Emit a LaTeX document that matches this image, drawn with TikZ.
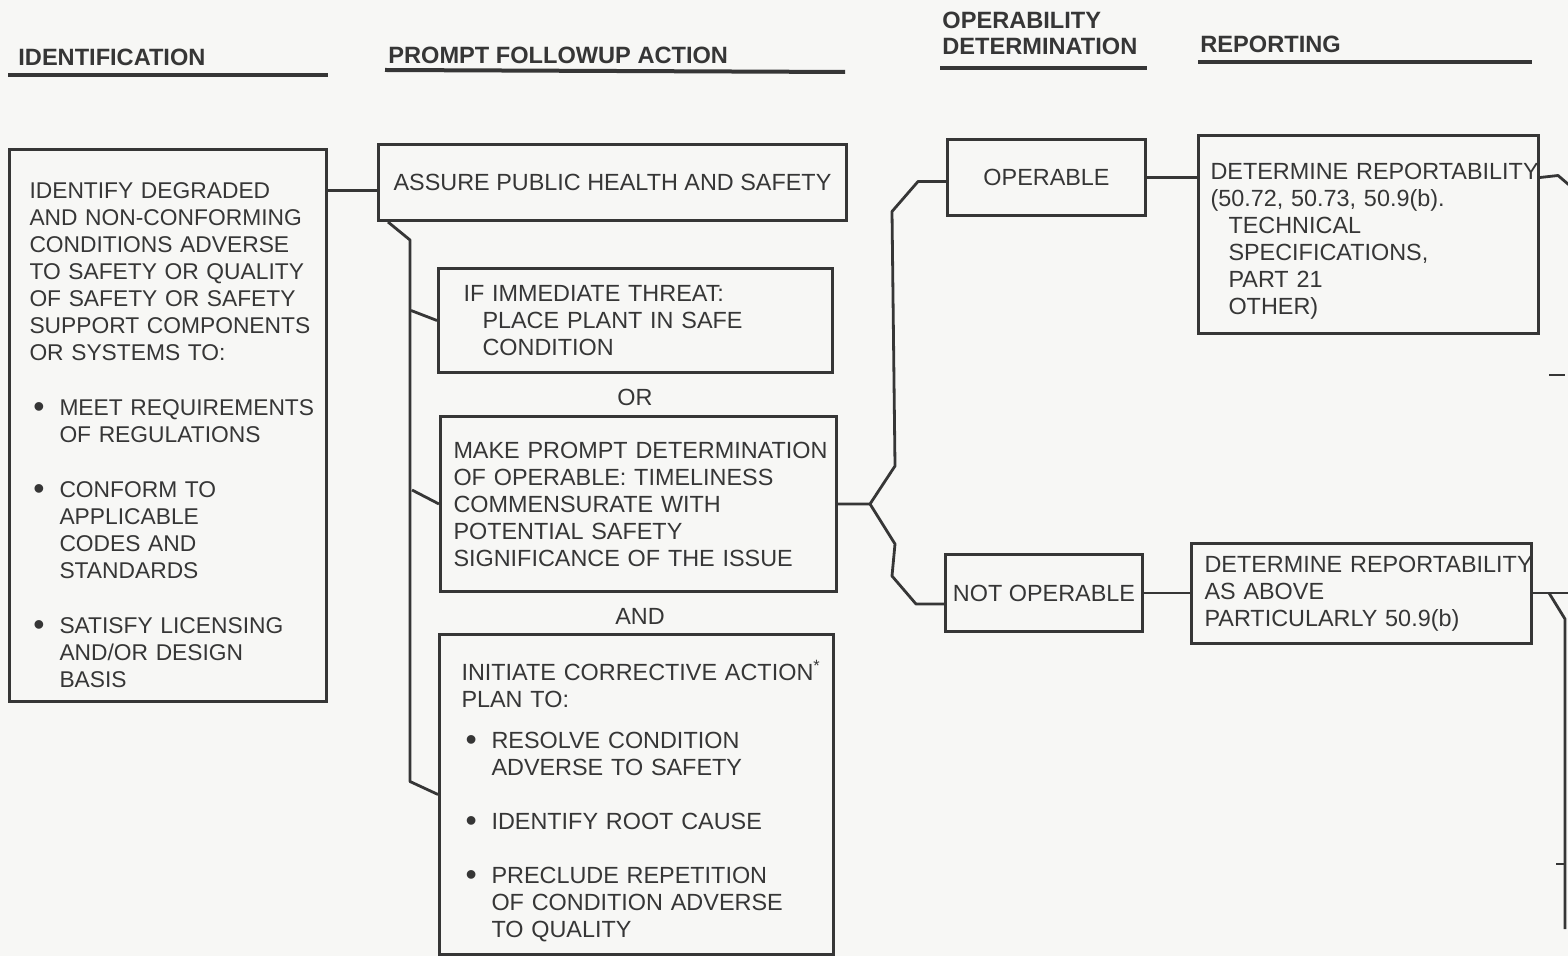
\documentclass[tikz,border=0pt]{standalone}
\usepackage{fontspec}
\setmainfont{Liberation Sans}
\usepackage{xcolor}
\definecolor{ink}{HTML}{363636}
\definecolor{paper}{HTML}{F7F7F5}
\newcommand{\bodyfont}{\fontsize{11.7pt}{13.5pt}\selectfont}
\newcommand{\smallbody}{\fontsize{11.4pt}{13.5pt}\selectfont}
\newcommand{\headfont}{\fontsize{11.8pt}{13pt}\selectfont\bfseries}
\newcommand{\bul}{\hspace*{2pt}\makebox[13pt][l]{\raisebox{-1.2pt}{\fontsize{16pt}{0pt}\selectfont\textbullet}}}
\newcommand{\ind}{\hspace*{15pt}}
\newcommand{\lift}[1]{\rule{0pt}{#1}}

\begin{document}
\begin{tikzpicture}[x=0.5pt,y=-0.5pt,
  blk/.style={draw=ink, line width=1.5pt, anchor=north west, inner xsep=0pt,
    inner ysep=2pt, align=left, font=\bodyfont, text=ink,
    execute at begin node={\leftskip=#1\relax}},
  cblk/.style={draw=ink, line width=1.5pt, anchor=north west, inner sep=0pt,
    align=center, font=\bodyfont, text=ink},
  hdr/.style={anchor=west, inner sep=0pt, align=left, font=\headfont, text=ink},
  lbl/.style={font=\bodyfont, text=ink, inner sep=0pt},
  wire/.style={draw=ink, line width=1.4pt, line join=round},
  uline/.style={draw=ink, line width=2pt}]
\fill[paper] (0,0) rectangle (1568,956);
\useasboundingbox (0,0) rectangle (1568,956);

\node[hdr] (hid) at (18,57) {IDENTIFICATION};
\node[hdr] (hpf) at (388,55) {PROMPT FOLLOWUP ACTION};
\node[hdr] (hop) at (942,33) {OPERABILITY\\DETERMINATION};
\node[hdr] (hrep) at (1200,44) {REPORTING};
\draw[uline] (8,75) -- (328,75);
\draw[uline] (385,70) -- (845,72);
\draw[uline] (940,68) -- (1147,68);
\draw[uline] (1198,62) -- (1532,62);

\node[blk=10pt, font=\smallbody, text width=158.5pt, minimum height=276pt] (ident) at (8,148) {%
\lift{17.4pt}IDENTIFY DEGRADED\\
AND NON-CONFORMING\\
CONDITIONS ADVERSE\\
TO SAFETY OR QUALITY\\
OF SAFETY OR SAFETY\\
SUPPORT COMPONENTS\\
OR SYSTEMS TO:\\[14pt]
\bul MEET REQUIREMENTS\\
\ind OF REGULATIONS\\[14pt]
\bul CONFORM TO\\
\ind APPLICABLE\\
\ind CODES AND\\
\ind STANDARDS\\[14pt]
\bul SATISFY LICENSING\\
\ind AND/OR DESIGN\\
\ind BASIS};

\node[cblk, minimum width=234pt, minimum height=38pt] (assure) at (377,143) {ASSURE PUBLIC HEALTH AND SAFETY};
\node[blk=12.5pt, text width=197pt, minimum height=52pt] (threat) at (437,267) {%
IF IMMEDIATE THREAT:\\
\hspace*{9.5pt}PLACE PLANT IN SAFE\\
\hspace*{9.5pt}CONDITION};
\node[lbl] (or) at (635,397) {OR};
\node[blk=6.5pt, text width=198pt, minimum height=87.5pt] (determ) at (439,415) {%
\mbox{MAKE PROMPT DETERMINATION}\\
OF OPERABLE: TIMELINESS\\
COMMENSURATE WITH\\
POTENTIAL SAFETY\\
SIGNIFICANCE OF THE ISSUE};
\node[lbl] (and) at (640,616) {AND};
\node[blk=11pt, text width=197pt, minimum height=160pt] (corr) at (438,633) {%
\lift{16.4pt}INITIATE CORRECTIVE ACTION\textsuperscript{*}\\
PLAN TO:\\[7pt]
\bul RESOLVE CONDITION\\
\ind ADVERSE TO SAFETY\\[13.5pt]
\bul IDENTIFY ROOT CAUSE\\[13.5pt]
\bul PRECLUDE REPETITION\\
\ind OF CONDITION ADVERSE\\
\ind TO QUALITY};

\node[cblk, minimum width=99pt, minimum height=38pt] (op) at (946,138) {OPERABLE};
\node[cblk, minimum width=98.5pt, minimum height=38.5pt] (notop) at (944,553) {NOT OPERABLE};
\node[blk=6pt, text width=170pt, minimum height=99pt] (rep1) at (1197,134) {%
\mbox{\lift{15.4pt}DETERMINE REPORTABILITY}\\
(50.72, 50.73, 50.9(b).\\
\hspace*{9pt}TECHNICAL\\
\hspace*{9pt}SPECIFICATIONS,\\
\hspace*{9pt}PART 21\\
\hspace*{9pt}OTHER)};
\node[blk=6.5pt, text width=170pt, minimum height=50pt] (rep2) at (1190,542) {%
\mbox{DETERMINE REPORTABILITY}\\
AS ABOVE\\
PARTICULARLY 50.9(b)};

\draw[wire] ([yshift=-4pt]assure.west -| ident.east) -- ([yshift=-4pt]assure.west);
\draw[wire] ([xshift=5.5pt]assure.south west) -- ++(22,18) -- ([shift={(-28,-13)}]corr.west) -- (corr.west);
\draw[wire] ([shift={(-26,-10)}]threat.west) -- (threat.west);
\draw[wire] ([shift={(-27,-14)}]determ.west) -- (determ.west);

\coordinate (fork) at ([xshift=16pt]determ.east);
\coordinate (opin) at ([yshift=-2pt]op.west);
\coordinate (noin) at ([yshift=-5.5pt]notop.west);
\draw[wire] (determ.east) -- (fork) -- ++(25,-38) -- ([shift={(-54,30)}]opin) -- ([xshift=-14pt]opin) -- (opin);
\draw[wire] (fork) -- ++(25,40) -- ([shift={(-52,-28)}]noin) -- ([xshift=-14pt]noin) -- (noin);

\draw[wire] (op.east) -- (op.east -| rep1.west);
\draw[wire] (notop.east) -- (notop.east -| rep2.west);

\draw[wire] (rep1.east |- op.east) -- ++(18,-2) -- ++(14,12);
\draw[wire] (rep2.east |- notop.east) -- ++(45,0);
\draw[wire] ([xshift=8pt]rep2.east |- notop.east) -- ++(16,26) coordinate (drop) -- ++(0,310);
\draw[wire] (drop) ++(0,245) -- ++(-9,0);
\draw[ink, line width=1pt] (1549,375) -- (1565,375);
\end{tikzpicture}
\end{document}
